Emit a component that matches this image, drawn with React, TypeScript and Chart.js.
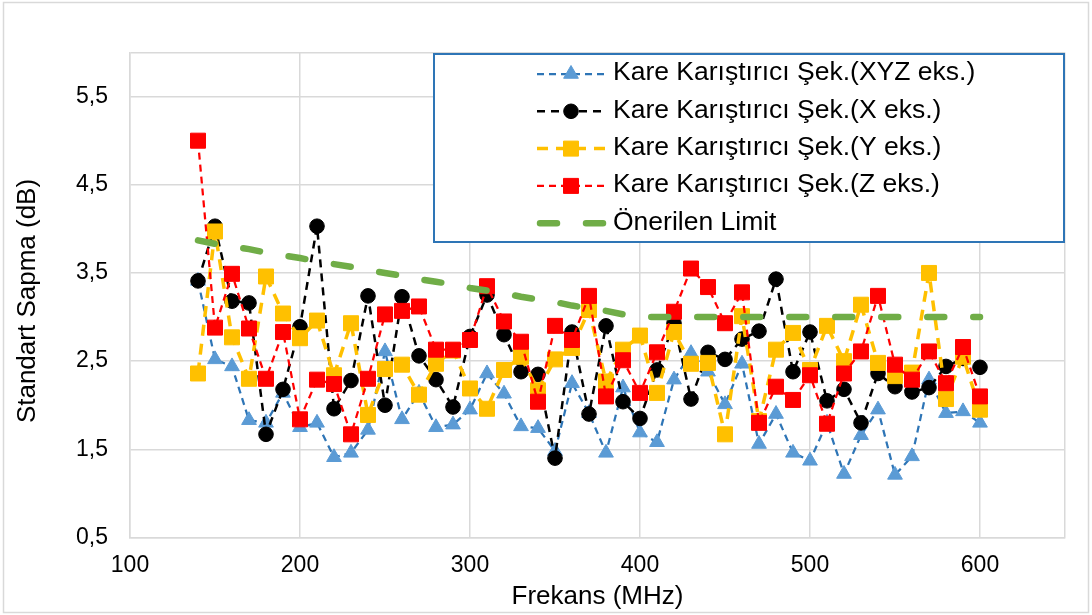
import React, { useEffect, useRef } from 'react';
import { Chart, registerables } from 'chart.js';

Chart.register(...registerables);

const FONT = '"Liberation Sans", Arial, Helvetica, sans-serif';

const frequencies = [
  140, 150, 160, 170, 180, 190, 200, 210, 220, 230, 240, 250, 260, 270, 280, 290,
  300, 310, 320, 330, 340, 350, 360, 370, 380, 390, 400, 410, 420, 430, 440, 450,
  460, 470, 480, 490, 500, 510, 520, 530, 540, 550, 560, 570, 580, 590, 600,
];

const xyzValues = [
  3.41, 2.52, 2.44, 1.83, 1.80, 2.14, 1.75, 1.80, 1.41, 1.46, 1.72, 2.61, 1.84, 2.14, 1.75, 1.78,
  1.95, 2.36, 2.13, 1.76, 1.74, 1.48, 2.25, 1.91, 1.46, 2.20, 1.69, 1.58, 2.29, 2.59, 2.38, 2.01,
  2.47, 1.56, 1.90, 1.46, 1.37, 1.80, 1.22, 1.66, 1.95, 1.21, 1.42, 2.29, 1.91, 1.93, 1.80,
];

const xValues = [
  3.41, 4.03, 3.18, 3.16, 1.67, 2.18, 2.89, 4.03, 1.96, 2.28, 3.24, 2.00, 3.23, 2.56, 2.29, 1.98,
  2.78, 3.25, 2.80, 2.38, 2.35, 1.40, 2.83, 1.90, 2.90, 2.04, 1.85, 2.40, 2.93, 2.07, 2.60, 2.52,
  2.75, 2.84, 3.43, 2.38, 2.83, 2.05, 2.18, 1.80, 2.36, 2.21, 2.15, 2.20, 2.44, 2.53, 2.43,
];

const yValues = [
  2.36, 3.97, 2.77, 2.30, 3.46, 3.04, 2.76, 2.96, 2.34, 2.93, 1.89, 2.41, 2.46, 2.12, 2.47, 2.62,
  2.19, 1.96, 2.40, 2.55, 2.17, 2.52, 2.65, 3.08, 2.27, 2.63, 2.79, 2.14, 2.83, 2.47, 2.48, 1.67,
  3.01, 1.82, 2.63, 2.82, 2.40, 2.90, 2.50, 3.14, 2.48, 2.33, 2.37, 3.50, 2.07, 2.55, 1.95,
];

const zValues = [
  5.00, 2.88, 3.49, 2.87, 2.30, 2.83, 1.84, 2.29, 2.24, 1.67, 2.30, 3.03, 3.07, 3.12, 2.63, 2.63,
  2.74, 3.35, 2.95, 2.72, 2.04, 2.90, 2.74, 3.24, 2.10, 2.51, 2.14, 2.60, 3.06, 3.55, 3.34, 2.93,
  3.28, 1.80, 2.21, 2.06, 2.34, 1.79, 2.36, 2.61, 3.24, 2.46, 2.29, 2.61, 2.25, 2.66, 2.10,
];

const limitValues = [
  3.87, 3.83, 3.80, 3.77, 3.73, 3.70, 3.67, 3.63, 3.60, 3.57, 3.53, 3.50, 3.47, 3.43, 3.40, 3.37,
  3.33, 3.30, 3.27, 3.23, 3.20, 3.17, 3.13, 3.10, 3.07, 3.03, 3.00, 3.00, 3.00, 3.00, 3.00, 3.00,
  3.00, 3.00, 3.00, 3.00, 3.00, 3.00, 3.00, 3.00, 3.00, 3.00, 3.00, 3.00, 3.00, 3.00, 3.00,
];

const seriesLabels = [
  'Kare Karıştırıcı Şek.(XYZ eks.)',
  'Kare Karıştırıcı Şek.(X eks.)',
  'Kare Karıştırıcı Şek.(Y eks.)',
  'Kare Karıştırıcı Şek.(Z eks.)',
  'Önerilen Limit',
];

const xTickValues = [100, 200, 300, 400, 500, 600, 650];
const yTickValues = [0.5, 1.5, 2.5, 3.5, 4.5, 5.5, 6];

const xAxisTitle = 'Frekans (MHz)';
const yAxisTitle = 'Standart Sapma (dB)';

type SeriesStyle = {
  lineColor: string;
  markerColor: string;
  width: number;
  dash: number[];
  cap: CanvasLineCap;
  marker: 'triangle' | 'circle' | 'rect' | false;
  radius: number;
};

const styles: SeriesStyle[] = [
  { lineColor: '#2E75B6', markerColor: '#5B9BD5', width: 2.25, dash: [7, 5], cap: 'butt', marker: 'triangle', radius: 8.5 },
  { lineColor: '#000000', markerColor: '#000000', width: 2.5, dash: [8, 6], cap: 'butt', marker: 'circle', radius: 7.3 },
  { lineColor: '#FFC000', markerColor: '#FFC000', width: 3.5, dash: [11, 8], cap: 'butt', marker: 'rect', radius: 10.6 },
  { lineColor: '#FF0000', markerColor: '#FF0000', width: 2.25, dash: [7, 5], cap: 'butt', marker: 'rect', radius: 10.6 },
  { lineColor: '#70AD47', markerColor: '#70AD47', width: 6.5, dash: [17, 29], cap: 'round', marker: false, radius: 0 },
];

function drawMarker(ctx: CanvasRenderingContext2D, s: SeriesStyle, x: number, y: number) {
  if (!s.marker) return;
  ctx.save();
  ctx.setLineDash([]);
  ctx.fillStyle = s.markerColor;
  ctx.strokeStyle = s.markerColor;
  ctx.lineWidth = 1;
  ctx.beginPath();
  const r = s.radius;
  if (s.marker === 'circle') {
    ctx.arc(x, y, r, 0, Math.PI * 2);
  } else if (s.marker === 'triangle') {
    ctx.moveTo(x, y - r);
    ctx.lineTo(x + r * Math.sin(Math.PI / 3), y + r * 0.5);
    ctx.lineTo(x - r * Math.sin(Math.PI / 3), y + r * 0.5);
    ctx.closePath();
  } else {
    const h = r * Math.SQRT1_2;
    ctx.rect(x - h, y - h, 2 * h, 2 * h);
  }
  ctx.fill();
  ctx.stroke();
  ctx.restore();
}

export default function App() {
  const canvasRef = useRef<HTMLCanvasElement>(null);

  useEffect(() => {
    document.body.style.margin = '0';
    const canvas = canvasRef.current;
    if (!canvas) return;

    const valueSets = [xyzValues, xValues, yValues, zValues, limitValues];
    const orders = [4, 3, 2, 1, 0];

    const datasets = valueSets.map((vals, i) => {
      const s = styles[i];
      return {
        label: seriesLabels[i],
        data: frequencies.map((f, j) => ({ x: f, y: vals[j] })),
        order: orders[i],
        borderColor: s.lineColor,
        borderWidth: s.width,
        borderDash: s.dash,
        borderCapStyle: s.cap,
        borderJoinStyle: 'round' as const,
        fill: false,
        tension: 0,
        pointStyle: s.marker === false ? 'circle' : s.marker,
        pointRadius: s.marker === false ? 0 : s.radius,
        pointHoverRadius: s.marker === false ? 0 : s.radius,
        pointBackgroundColor: s.markerColor,
        pointBorderColor: s.markerColor,
        pointBorderWidth: 1,
      };
    });

    const frameAndLegend = {
      id: 'frameAndLegend',
      beforeDraw(chart: any) {
        const ctx = chart.ctx as CanvasRenderingContext2D;
        ctx.save();
        ctx.fillStyle = '#ffffff';
        ctx.fillRect(0, 0, chart.width, chart.height);
        ctx.strokeStyle = '#D9D9D9';
        ctx.lineWidth = 1.5;
        ctx.strokeRect(3.5, 2.5, 1085, 610);
        ctx.restore();
      },
      afterDraw(chart: any) {
        const ctx = chart.ctx as CanvasRenderingContext2D;
        ctx.save();
        // y axis title
        ctx.save();
        ctx.translate(28, 301);
        ctx.rotate(-Math.PI / 2);
        ctx.fillStyle = '#000000';
        ctx.font = `26px ${FONT}`;
        ctx.textAlign = 'center';
        ctx.textBaseline = 'middle';
        ctx.fillText(yAxisTitle, 0, 0);
        ctx.restore();
        // legend
        const bx = 434, by = 54, bw = 630, bh = 188;
        ctx.fillStyle = '#ffffff';
        ctx.fillRect(bx, by, bw, bh);
        ctx.strokeStyle = '#2E75B6';
        ctx.lineWidth = 2;
        ctx.strokeRect(bx, by, bw, bh);
        seriesLabels.forEach((label, i) => {
          const s = styles[i];
          const y = 74 + i * 37.3;
          ctx.save();
          ctx.beginPath();
          ctx.setLineDash(s.dash);
          ctx.lineWidth = s.width;
          ctx.strokeStyle = s.lineColor;
          ctx.lineCap = s.cap;
          const x0 = s.cap === 'round' ? 540 : 537;
          const x1 = s.cap === 'round' ? 604 : 605;
          ctx.moveTo(x0, y);
          ctx.lineTo(x1, y);
          ctx.stroke();
          ctx.restore();
          drawMarker(ctx, s, 571, y);
          ctx.fillStyle = '#000000';
          ctx.font = `26.5px ${FONT}`;
          ctx.textBaseline = 'middle';
          ctx.textAlign = 'left';
          ctx.fillText(label, 613, y - 1);
        });
        ctx.restore();
      },
    };

    const chart = new Chart(canvas, {
      type: 'line',
      data: { datasets: datasets as any },
      options: {
        responsive: false,
        animation: false,
        devicePixelRatio: 1,
        layout: { padding: { left: 0, right: 27, top: 52.5, bottom: 0 } },
        plugins: {
          legend: { display: false },
          tooltip: { enabled: false },
        },
        scales: {
          x: {
            type: 'linear',
            min: 100,
            max: 650,
            afterBuildTicks: (scale: any) => {
              scale.ticks = xTickValues.map((v) => ({ value: v }));
            },
            afterFit: (scale: any) => {
              scale.height = 77.5;
            },
            grid: { color: '#D9D9D9', lineWidth: 1.5, drawTicks: false },
            border: { color: '#D9D9D9', width: 1.5 },
            ticks: {
              padding: 14,
              autoSkip: false,
              maxRotation: 0,
              color: '#000000',
              font: { family: FONT, size: 23 },
              callback: (v: any) => (v === 650 ? '' : String(v)),
            },
            title: {
              display: true,
              text: xAxisTitle,
              color: '#000000',
              font: { family: FONT, size: 26 },
              padding: { top: 0, bottom: 2.4 },
            },
          },
          y: {
            type: 'linear',
            min: 0.5,
            max: 6,
            afterBuildTicks: (scale: any) => {
              scale.ticks = yTickValues.map((v) => ({ value: v }));
            },
            afterFit: (scale: any) => {
              scale.width = 130;
            },
            grid: { color: '#D9D9D9', lineWidth: 1.5, drawTicks: false },
            border: { color: '#D9D9D9', width: 1.5 },
            ticks: {
              padding: 22,
              autoSkip: false,
              color: '#000000',
              font: { family: FONT, size: 23 },
              callback: (v: any) => (v === 6 ? '' : Number(v).toFixed(1).replace('.', ',')),
            },
            title: { display: false },
          },
        },
      },
      plugins: [frameAndLegend],
    });

    return () => chart.destroy();
  }, []);

  return (
    <div style={{ position: 'absolute', left: 0, top: 0, width: 1092, height: 615 }}>
      <canvas ref={canvasRef} width={1092} height={615} style={{ display: 'block' }} />
    </div>
  );
}
